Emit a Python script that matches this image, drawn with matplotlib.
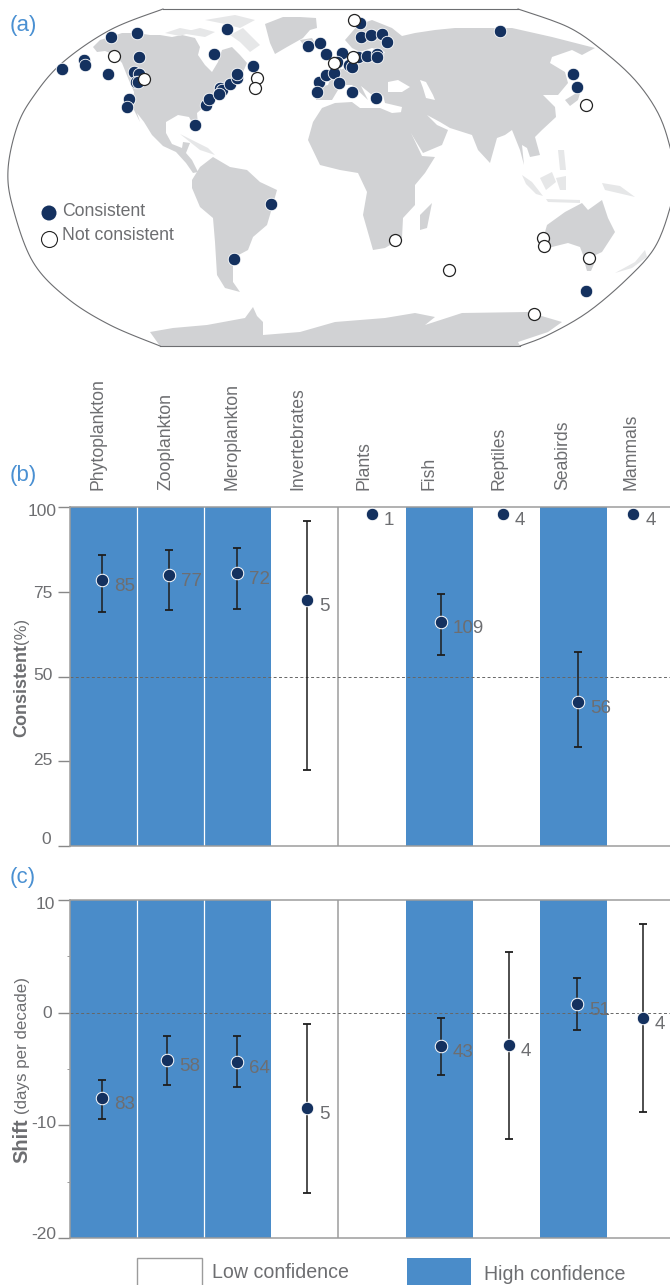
import numpy as np
import matplotlib
matplotlib.use("Agg")
import matplotlib.pyplot as plt
from matplotlib.patches import Polygon, Rectangle
from matplotlib.transforms import ScaledTranslation

plt.rcParams['font.family'] = ['Liberation Sans', 'DejaVu Sans']

# ---------- data ----------
categories = ['Phytoplankton', 'Zooplankton', 'Meroplankton', 'Invertebrates', 'Plants',
              'Fish', 'Reptiles', 'Seabirds', 'Mammals']
high_conf = [True, True, True, False, False, True, False, True, False]

b_x = [-0.023, 0.975, 1.989, 3.032, 4.0, 5.029, 5.953, 7.071, 7.891]
b_val = [78.5, 80, 80.5, 72.5, 98, 66, 98, 42.5, 98]
b_hi = [85.8, 87.3, 87.9, 95.9, None, 74.3, None, 57.2, None]
b_lo = [68.9, 69.6, 70, 22.4, None, 56.3, None, 29.2, None]
b_n = ['85', '77', '72', '5', '1', '109', '4', '56', '4']

c_x = [-0.023, 0.946, 1.989, 3.032, None, 5.029, 6.042, 7.056, 8.039]
c_val = [-7.6, -4.2, -4.35, -8.5, None, -3, -2.85, 0.8, -0.45]
c_hi = [-5.95, -2.1, -2.1, -1.05, None, -0.5, 5.4, 3.1, 7.9]
c_lo = [-9.4, -6.4, -6.6, -16, None, -5.5, -11.2, -1.5, -8.8]
c_n = ['83', '58', '64', '5', '', '43', '4', '51', '4']

b_ticks = [0, 25, 50, 75, 100]
c_ticks = [-20, -10, 0, 10]
c_minor = [-15, -5, 5]

# map sites, in reference map coordinates
consistent_x = [62, 84, 85, 111, 137, 139, 108, 134, 139, 136, 138, 129, 127, 195, 206, 209, 220, 222, 219,
                230, 237, 237, 253, 227, 214, 308, 320, 326, 319, 317, 326, 334, 360, 361, 371, 382, 387,
                342, 337, 358, 367, 377, 377, 349, 352, 339, 352, 376, 500, 573, 577, 586, 271, 234]
consistent_y = [69, 60, 65, 37, 33, 57, 74, 72, 74, 82, 82, 99, 107, 125, 105, 99, 88, 90, 94,
                84, 78, 74, 66, 29, 54, 46, 43, 54, 82, 92, 75, 73, 23, 37, 35, 34, 42,
                53, 62, 57, 56, 54, 57, 65, 67, 83, 92, 98, 31, 74, 87, 291, 204, 259]
not_x = [114, 144, 257, 255, 334, 354, 353, 586, 395, 449, 543, 544, 589, 534]
not_y = [56, 79, 78, 88, 63, 20, 57, 105, 240, 270, 238, 246, 258, 314]

# land outlines, in reference map coordinates
north_america = [(93, 47), (100, 40), (110, 37), (122, 33), (137, 33), (150, 35), (160, 35), (172, 37), (182, 35), (195, 38),
                 (200, 47), (198, 55), (205, 65), (212, 72), (218, 62), (222, 50), (232, 47), (240, 55), (247, 63), (243, 72), (232, 75),
                 (240, 79), (232, 85), (222, 90), (214, 97), (205, 106), (197, 113), (198, 125), (194, 126), (189, 117), (178, 115),
                 (166, 122), (166, 133), (172, 144), (182, 148), (183, 142), (190, 143), (186, 153), (192, 160), (198, 172), (193, 173),
                 (186, 163), (176, 152), (163, 146), (152, 135), (144, 122), (137, 113), (140, 122), (133, 108), (134, 92),
                 (128, 78), (122, 63), (115, 55), (105, 51), (97, 52)]
greenland = [(265, 24), (283, 17), (300, 17), (316, 18), (317, 28), (310, 30), (303, 38), (287, 47), (275, 54), (270, 43)]
south_america = [(192, 188), (192, 180), (200, 167), (213, 157), (230, 167), (247, 170), (260, 182), (277, 190), (272, 208),
                 (267, 225), (253, 237), (248, 250), (233, 258), (233, 282), (240, 292), (225, 288), (217, 275), (215, 242),
                 (213, 218), (200, 207)]
africa = [(308, 140), (313, 122), (322, 108), (335, 103), (352, 102), (360, 108), (380, 108), (392, 113), (403, 112),
          (412, 135), (422, 156), (435, 157), (425, 173), (415, 185), (415, 205), (403, 218), (402, 238), (385, 248),
          (373, 250), (363, 215), (367, 192), (358, 173), (340, 170), (320, 165)]
madagascar = [(432, 203), (427, 228), (420, 230), (420, 215)]
eurasia = [(316, 100), (315, 88), (328, 85), (332, 75), (340, 70), (352, 65), (356, 60), (365, 62), (380, 60), (385, 52),
           (372, 48), (360, 52), (352, 48), (345, 40), (358, 25), (372, 20), (392, 28), (402, 36), (415, 33), (435, 30), (455, 28),
           (478, 28), (512, 28), (552, 37), (595, 48), (582, 55), (572, 50), (552, 57), (550, 63), (565, 72), (568, 83),
           (558, 95), (543, 95), (555, 107), (556, 117), (542, 130), (535, 137), (540, 155), (530, 157), (527, 148), (522, 145),
           (524, 165), (520, 150), (512, 130), (505, 135), (497, 138), (490, 163), (478, 150), (472, 135), (450, 128), (440, 122),
           (427, 115), (437, 125), (448, 130), (442, 145), (423, 153), (412, 135), (400, 117), (402, 107), (385, 103), (383, 95),
           (378, 103), (372, 95), (361, 86), (368, 100), (352, 85), (345, 85), (338, 90), (332, 100)]
black_sea = [(388, 82), (398, 80), (410, 87), (402, 92), (388, 92)]
caspian = [(420, 80), (426, 82), (433, 95), (435, 100), (426, 98), (423, 88)]
britain = [(326, 74), (332, 68), (330, 57), (336, 56), (341, 70), (332, 76)]
iceland = [(300, 40), (312, 38), (315, 43), (304, 46)]
japan = [(565, 100), (578, 92), (575, 80), (581, 90), (578, 100), (570, 106)]
australia = [(545, 232), (547, 225), (565, 212), (582, 203), (588, 210), (602, 200), (608, 218), (615, 232), (602, 252),
             (585, 260), (580, 247), (568, 243), (548, 248), (543, 243)]
tasmania = [(585, 264), (594, 264), (591, 271), (587, 271)]
antarctica = [(150, 332), (173, 328), (207, 325), (245, 318), (253, 307), (257, 316), (263, 322), (263, 335), (300, 332),
              (335, 322), (385, 318), (415, 313), (435, 317), (425, 325), (462, 313), (528, 312), (562, 322), (548, 332),
              (518, 342), (520, 346), (160, 346)]
light_land = [
    [(180, 33), (200, 28), (215, 32), (205, 37)],
    [(205, 20), (235, 15), (255, 20), (240, 28), (225, 24)],
    [(230, 35), (243, 28), (260, 45), (250, 52), (240, 42)],
    [(165, 33), (180, 28), (195, 31), (180, 36)],
    [(522, 175), (532, 182), (543, 196), (536, 194), (526, 184)],
    [(540, 178), (552, 172), (556, 182), (546, 190)],
    [(546, 199), (580, 200), (580, 203), (548, 202)],
    [(602, 183), (620, 186), (635, 197), (618, 193), (605, 190)],
    [(556, 178), (566, 176), (566, 190), (560, 190)],
    [(558, 150), (564, 150), (566, 170), (560, 170)],
    [(615, 273), (635, 262), (645, 250), (647, 257), (632, 268)],
    [(180, 134), (208, 148), (215, 155), (200, 150)],
]
frame_left = [(163, 9), (110, 30), (62, 63), (33, 97), (17, 127), (8, 170), (13, 208), (33, 262), (67, 298), (110, 325), (160, 346)]
frame_right = [(520, 346), (548, 335), (588, 312), (628, 278), (655, 247), (670, 208), (675, 178), (670, 147), (658, 113),
               (635, 80), (602, 50), (568, 27), (518, 9)]

# ---------- style ----------
BLUE = '#4a8cc9'
NAVY = '#14315f'
GREY = '#6d6e71'
AXIS = '#9c9c9c'
LAND = '#d1d2d4'
LIGHT = '#e6e7e8'
LETTER = '#4a90d2'
W, H = 670, 1285
CAT_FS = 12.7
TICK_FS = 12.5
NUM_FS = 13.5

fig = plt.figure(figsize=(W / 100, H / 100), dpi=100, facecolor='white')
px = lambda v: v * 0.72


def smooth(pts, n=12):
    p = np.array([pts[0]] + list(pts) + [pts[-1]], dtype=float)
    out = []
    for i in range(1, len(p) - 2):
        for t in np.linspace(0, 1, n, endpoint=False):
            a, b, c, d = p[i - 1], p[i], p[i + 1], p[i + 2]
            out.append(0.5 * (2 * b + (c - a) * t + (2 * a - 5 * b + 4 * c - d) * t ** 2 + (3 * b - a - 3 * c + d) * t ** 3))
    out.append(p[-2])
    return np.array(out)


# ---------- map / page layer ----------
ax = fig.add_axes([0, 0, 1, 1])
ax.set_xlim(0, W)
ax.set_ylim(H, 0)
ax.axis('off')

for poly in [north_america, greenland, south_america, africa, madagascar, eurasia, britain, iceland, japan,
             australia, tasmania, antarctica]:
    ax.add_patch(Polygon(poly, closed=True, fc=LAND, ec='none', zorder=1))
for poly in light_land:
    ax.add_patch(Polygon(poly, closed=True, fc=LIGHT, ec='none', zorder=1))
for poly in [black_sea, caspian]:
    ax.add_patch(Polygon(poly, closed=True, fc='white', ec='none', zorder=1.5))

fl, fr = smooth(frame_left), smooth(frame_right)
ax.plot(fl[:, 0], fl[:, 1], color=GREY, lw=0.8, zorder=2)
ax.plot(fr[:, 0], fr[:, 1], color=GREY, lw=0.8, zorder=2)
ax.plot([frame_left[0][0], frame_right[-1][0]], [9, 9], color=GREY, lw=0.8, zorder=2)
ax.plot([frame_left[-1][0], frame_right[0][0]], [346, 346], color=GREY, lw=0.8, zorder=2)

ax.scatter(consistent_x, consistent_y, s=px(12.5) ** 2, c=NAVY, edgecolors='white', linewidths=0.6, zorder=3)
ax.scatter(not_x, not_y, s=px(12) ** 2, c='white', edgecolors='#222222', linewidths=0.9, zorder=4)

ax.scatter([49], [213], s=px(15) ** 2, c=NAVY, edgecolors='none', zorder=3)
ax.scatter([49], [239], s=px(16) ** 2, c='white', edgecolors='#222222', linewidths=0.8, zorder=3)
ax.text(62, 211, 'Consistent', fontsize=CAT_FS, color=GREY, va='center', ha='left')
ax.text(62, 236, 'Not consistent', fontsize=CAT_FS, color=GREY, va='center', ha='left')

ax.text(10, 25, '(a)', fontsize=16, color=LETTER, va='center', ha='left')
ax.text(10, 475, '(b)', fontsize=16, color=LETTER, va='center', ha='left')
ax.text(10, 878, '(c)', fontsize=16, color=LETTER, va='center', ha='left')

label_x = [98, 166, 232, 298, 364, 429, 499, 563, 631]
for lx, name in zip(label_x, categories):
    ax.text(lx, 490, name, rotation=90, fontsize=CAT_FS, color=GREY, ha='center', va='bottom')

ax.text(22, 737, 'Consistent', rotation=90, fontsize=13, fontweight='bold', color=GREY, ha='center', va='bottom')
ax.text(22, 644, '(%)', rotation=90, fontsize=12, color=GREY, ha='center', va='bottom')
ax.text(22, 1163, 'Shift', rotation=90, fontsize=14.5, fontweight='bold', color=GREY, ha='center', va='bottom')
ax.text(23, 1114, '(days per decade)', rotation=90, fontsize=12.2, color=GREY, ha='center', va='bottom')

ax.add_patch(Rectangle((137, 1258), 65, 30, fc='white', ec=AXIS, lw=1.0, zorder=2))
ax.add_patch(Rectangle((407, 1258), 64, 30, fc=BLUE, ec='none', zorder=2))
ax.text(212, 1273, 'Low confidence', fontsize=14.1, color=GREY, va='center', ha='left')
ax.text(484, 1274, 'High confidence', fontsize=14.1, color=GREY, va='center', ha='left')


# ---------- panels ----------
def panel(top, bottom, ylim, ticks, xs, vals, his, los, ns, refy, shifts):
    a = fig.add_axes([70 / W, 1 - bottom / H, 600 / W, (bottom - top) / H])
    a.set_xlim(-0.5, 8.44)
    a.set_ylim(*ylim)
    a.patch.set_alpha(0)
    for i, hc in enumerate(high_conf):
        if hc:
            a.bar(i, ylim[1] - ylim[0], bottom=ylim[0], width=1, color=BLUE, linewidth=0, zorder=1)
    a.axvline(0.5, color='white', lw=0.9, zorder=1.5)
    a.axvline(1.5, color='white', lw=0.9, zorder=1.5)
    a.axvline(3.5, color=AXIS, lw=1.1, zorder=1.5)
    a.axhline(refy, color='#666666', lw=0.7, ls=(0, (3, 2.5)), zorder=2)
    for x, v, hi, lo, n in zip(xs, vals, his, los, ns):
        if v is None:
            continue
        if hi is not None:
            a.errorbar(x, v, yerr=[[v - lo], [hi - v]], color='#1e1e1e', lw=1.1, capsize=px(4.2), capthick=1.3, zorder=3)
        a.plot(x, v, 'o', ms=px(12.5), mfc=NAVY, mec='white', mew=0.7, zorder=4)
        a.annotate(n, (x, v), xytext=(px(12), px(-6.5)), textcoords='offset points', fontsize=NUM_FS, color=GREY,
                   ha='left', va='center', zorder=5, annotation_clip=False)
    a.spines['right'].set_visible(False)
    for s in ['left', 'top', 'bottom']:
        a.spines[s].set_color(AXIS)
        a.spines[s].set_linewidth(1.1)
    a.set_xticks([])
    a.set_yticks(ticks)
    a.set_yticklabels([str(t) for t in ticks], fontsize=TICK_FS, color=GREY)
    a.tick_params(axis='y', length=px(12), width=1.0, color='#888888', pad=px(5))
    for lab, (sx, sy) in zip(a.get_yticklabels(), shifts):
        lab.set_transform(lab.get_transform() + ScaledTranslation(sx / 100, -sy / 100, fig.dpi_scale_trans))
    return a


panel(507, 846, (0, 100), b_ticks, b_x, b_val, b_hi, b_lo, b_n, 50, [(-2, -8), (0, -2), (0, -3), (0, 0), (4, 3)])
ac = panel(900, 1238, (-20, 10), c_ticks, c_x, c_val, c_hi, c_lo, c_n, 0, [(3, -5), (3.7, -3), (-1, -1), (2, 3)])
ac.set_yticks(c_minor, minor=True)
ac.tick_params(axis='y', which='minor', length=px(3), width=0.7, color=AXIS)

fig.savefig('out.png', dpi=100, facecolor='white')
